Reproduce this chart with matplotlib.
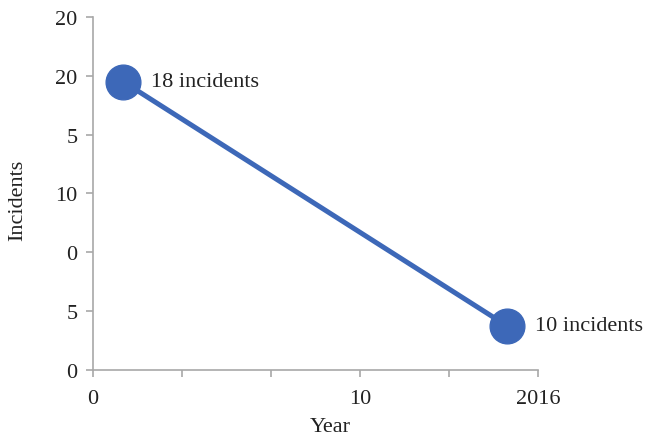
import matplotlib
matplotlib.use("Agg")
import matplotlib.pyplot as plt
import numpy as np

# data
year_pos = [0.34, 4.65]
incidents = [18, 10]
point_labels = ["18 incidents", "10 incidents"]
x_tick_pos = [0, 1, 2, 3, 4, 5]
x_tick_labels = ["0", "", "", "10", "", "2016"]
y_tick_labels = ["0", "5", "0", "10", "5", "20", "20"]

blue = "#3d68b8"
grey = "#a8a8a8"
txt = "#222222"
fs = 16
plt.rcParams["font.family"] = ["Liberation Serif", "DejaVu Serif"]

fig = plt.figure(figsize=(6.47, 4.39), dpi=100)
ax = fig.add_axes([0.1437, 0.1549, 0.6878, 0.8041])

ax.plot(year_pos, incidents, color=blue, lw=3.6, marker="o", ms=25,
        solid_capstyle="round")
for x, y, s in zip(year_pos, incidents, point_labels):
    ax.annotate(s, (x, y), xytext=(20, 0), textcoords="offset points",
                va="center", ha="left", fontsize=fs, color=txt)

ax.set_xlim(0, 5)
ylo, yhi = 8.55, 20.12
ax.set_ylim(ylo, yhi)
ax.set_xticks(x_tick_pos)
ax.set_xticklabels(x_tick_labels, fontsize=fs, color=txt)
ax.set_yticks(np.linspace(ylo, yhi, len(y_tick_labels)))
ax.set_yticklabels(y_tick_labels, fontsize=fs, color=txt)

for side in ["top", "right"]:
    ax.spines[side].set_visible(False)
for side in ["left", "bottom"]:
    ax.spines[side].set_color(grey)
    ax.spines[side].set_linewidth(1.2)
ax.tick_params(colors=grey, labelcolor=txt, length=5, width=1.2,
               direction="out")
ax.tick_params(axis="x", pad=9)
ax.tick_params(axis="y", pad=6)

fig.text(330 / 647, 1 - 428 / 439, "Year", fontsize=fs, color=txt,
         ha="center", va="center")
fig.text(18 / 647, 1 - 200 / 439, "Incidents", fontsize=fs, color=txt,
         ha="center", va="center", rotation=90)
ax.patch.set_alpha(0)

fig.savefig("out.png", dpi=100)
